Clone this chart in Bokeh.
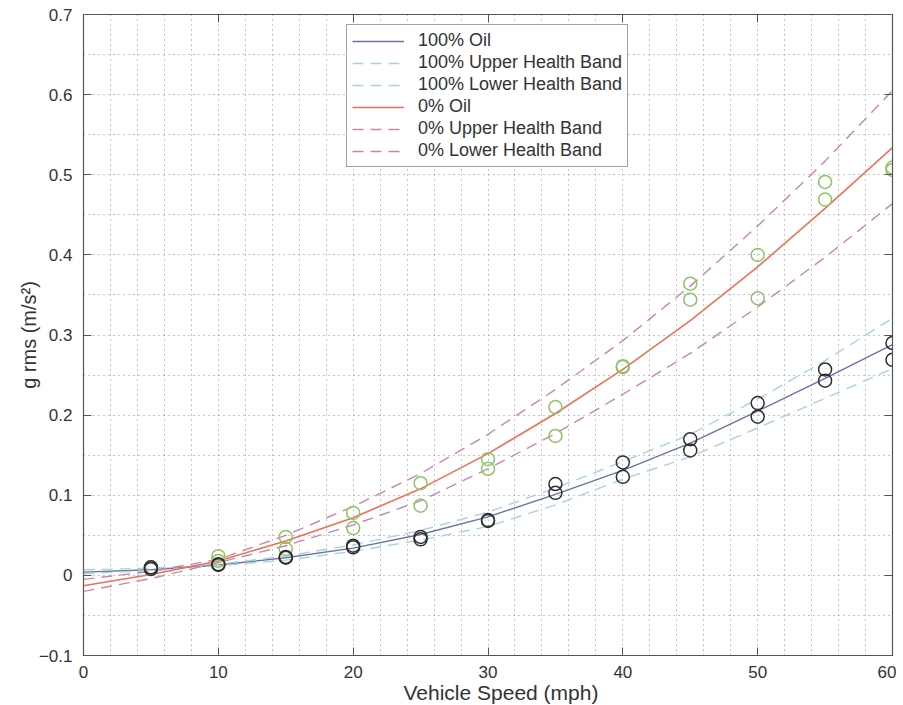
from bokeh.plotting import figure
from bokeh.models import (LinearAxis, FixedTicker, CustomJSTickFormatter, Legend,
                          LegendItem, Range1d, Title)
from bokeh.embed import file_html
from bokeh.resources import INLINE

# ---- data ----
speed = [5, 10, 15, 20, 25, 30, 35, 40, 45, 50, 55, 60]
full_run1 = [0.010, 0.014, 0.022, 0.037, 0.048, 0.069, 0.114, 0.141, 0.170, 0.215, 0.257, 0.290]
full_run2 = [0.008, 0.013, 0.023, 0.035, 0.045, 0.068, 0.103, 0.123, 0.156, 0.198, 0.243, 0.269]
empty_run1 = [0.010, 0.024, 0.048, 0.078, 0.115, 0.145, 0.210, 0.261, 0.364, 0.400, 0.491, 0.509]
empty_run2 = [0.008, 0.018, 0.033, 0.059, 0.087, 0.133, 0.174, 0.260, 0.344, 0.346, 0.469, 0.506]

fit_speed = [0, 5, 10, 15, 20, 25, 30, 35, 40, 45, 50, 55, 60]
full_fit = [0.004, 0.007, 0.013, 0.022, 0.034, 0.051, 0.073, 0.101, 0.131, 0.165, 0.205, 0.246, 0.288]
full_upper = [0.007, 0.009, 0.014, 0.024, 0.038, 0.056, 0.079, 0.109, 0.142, 0.176, 0.220, 0.268, 0.321]
full_lower = [0.002, 0.006, 0.012, 0.019, 0.030, 0.044, 0.061, 0.088, 0.120, 0.148, 0.184, 0.221, 0.258]
empty_fit = [-0.013, 0.001, 0.018, 0.043, 0.072, 0.108, 0.152, 0.202, 0.257, 0.318, 0.385, 0.458, 0.534]
empty_upper = [-0.005, 0.005, 0.020, 0.050, 0.086, 0.127, 0.176, 0.232, 0.293, 0.361, 0.436, 0.517, 0.605]
empty_lower = [-0.020, -0.004, 0.016, 0.037, 0.063, 0.093, 0.133, 0.177, 0.226, 0.277, 0.335, 0.397, 0.464]

x_ticks = [0, 10, 20, 30, 40, 50, 60]
x_minor = [2, 4, 6, 8, 12, 14, 16, 18, 22, 24, 26, 28, 32, 34, 36, 38, 42, 44, 46, 48, 52, 54, 56, 58]
y_ticks = [-0.1, 0.0, 0.1, 0.2, 0.3, 0.4, 0.5, 0.6, 0.7]
y_minor = [-0.05, 0.05, 0.15, 0.25, 0.35, 0.45, 0.55, 0.65]

x_title = "Vehicle Speed (mph)"
y_title = "g rms (m/s\u00b2)"

FONT = "Liberation Sans"
TXT = "#333333"
AX = "#555555"

p = figure(frame_width=809, frame_height=641, output_backend="svg", toolbar_location=None,
           x_range=Range1d(0, 60), y_range=Range1d(-0.1, 0.7),
           min_border_left=83, min_border_right=2, min_border_top=14, min_border_bottom=20,
           background_fill_color="white", border_fill_color="white")
p.outline_line_color = AX
p.outline_line_width = 1.2

xt = FixedTicker(ticks=x_ticks, minor_ticks=x_minor)
yt = FixedTicker(ticks=y_ticks, minor_ticks=y_minor)
yfmt = CustomJSTickFormatter(code="""
if (Math.abs(tick) < 1e-9) return '0';
return (tick < 0 ? '\u2212' : '') + Math.abs(tick).toFixed(1);
""")

bottom = p.below[0]
left = p.left[0]
bottom.ticker = xt
left.ticker = yt
left.formatter = yfmt
left.axis_label = y_title

for ax in (bottom, left):
    ax.axis_line_color = AX
    ax.major_tick_line_color = AX
    ax.major_tick_in = 8
    ax.major_tick_out = 0
    ax.minor_tick_line_color = None
    ax.major_label_text_font = FONT
    ax.major_label_text_font_size = "17px"
    ax.major_label_text_color = TXT
    ax.axis_label_text_font = FONT
    ax.axis_label_text_font_style = "normal"
    ax.axis_label_text_color = TXT

left.axis_label_text_font_size = "20px"
bottom.major_label_standoff = 6
left.major_label_standoff = 7
left.axis_label_standoff = -4

top = LinearAxis(ticker=xt)
right = LinearAxis(ticker=yt)
for ax in (top, right):
    ax.major_label_text_font_size = "0px"
    ax.major_label_text_color = None
    ax.major_label_standoff = 0
    ax.axis_line_color = AX
    ax.major_tick_line_color = AX
    ax.major_tick_in = 8
    ax.major_tick_out = 0
    ax.minor_tick_line_color = None
p.add_layout(top, "above")
p.add_layout(right, "right")

xlab = Title(text=x_title, align="left", offset=320, vertical_align="top", standoff=0,
             text_font=FONT, text_font_size="21px", text_font_style="normal",
             text_color=TXT)
p.add_layout(xlab, "below")

for g in (p.xgrid[0], p.ygrid[0]):
    g.grid_line_color = "#8a8a8a"
    g.grid_line_dash = "1 4"
    g.grid_line_width = 1
    g.minor_grid_line_color = "#8a8a8a"
    g.minor_grid_line_dash = "1 4"
    g.minor_grid_line_width = 1

C_FULL = "#6f6fac"
C_FULL_BAND = "#a6d6d6"
C_EMPTY = "#f26f57"
C_EMPTY_BAND = "#c986ad"
DASH = "11 7"

r1 = p.line(fit_speed, full_fit, line_color=C_FULL, line_width=1.4)
r2 = p.line(fit_speed, full_upper, line_color=C_FULL_BAND, line_width=1.4, line_dash=DASH)
r3 = p.line(fit_speed, full_lower, line_color=C_FULL_BAND, line_width=1.4, line_dash=DASH)
r4 = p.line(fit_speed, empty_fit, line_color=C_EMPTY, line_width=1.6)
r5 = p.line(fit_speed, empty_upper, line_color=C_EMPTY_BAND, line_width=1.4, line_dash=DASH)
r6 = p.line(fit_speed, empty_lower, line_color=C_EMPTY_BAND, line_width=1.4, line_dash=DASH)

for ys in (empty_run1, empty_run2):
    p.scatter(speed, ys, marker="circle", size=13, fill_color=None,
              line_color="#8cc466", line_width=1.5)
for ys in (full_run1, full_run2):
    p.scatter(speed, ys, marker="circle", size=13, fill_color=None,
              line_color="#2e2e2e", line_width=1.5)

legend = Legend(items=[
    LegendItem(label="100% Oil", renderers=[r1]),
    LegendItem(label="100% Upper Health Band", renderers=[r2]),
    LegendItem(label="100% Lower Health Band", renderers=[r3]),
    LegendItem(label="0% Oil", renderers=[r4]),
    LegendItem(label="0% Upper Health Band", renderers=[r5]),
    LegendItem(label="0% Lower Health Band", renderers=[r6]),
], location=(263, 488))
legend.glyph_width = 52
legend.glyph_height = 20
legend.label_height = 20
legend.spacing = 1
legend.padding = 5
legend.margin = 0
legend.label_standoff = 14
legend.label_text_font = FONT
legend.label_text_font_size = "18px"
legend.label_text_color = TXT
legend.border_line_color = "#444444"
legend.border_line_width = 1
legend.background_fill_color = "white"
legend.background_fill_alpha = 1
p.add_layout(legend, "center")

open("out.html", "w").write(file_html(p, INLINE))
